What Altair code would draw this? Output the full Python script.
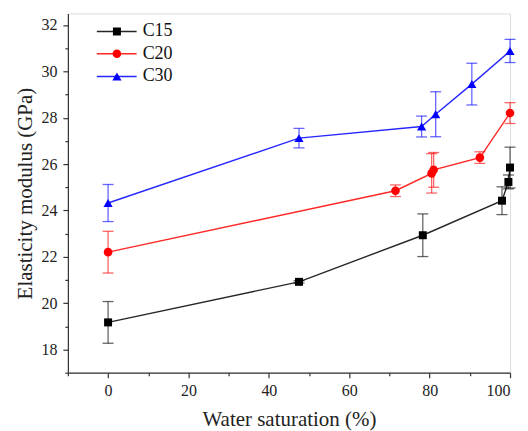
import altair as alt
import pandas as pd

series = ["C15", "C20", "C30"]
colors = ["#000000", "#ff0000", "#0000ff"]
shapes = ["square", "circle", "triangle-up"]

c15_x = [0, 47.5, 78.3, 98.0, 99.6, 100.0]
c15_y = [19.17, 20.92, 22.93, 24.42, 25.23, 25.85]
c15_err = [0.9, 0.05, 0.92, 0.6, 0.3, 0.88]

c20_x = [0, 71.5, 80.5, 81.0, 92.5, 100.0]
c20_y = [22.2, 24.85, 25.6, 25.75, 26.28, 28.2]
c20_err = [0.9, 0.25, 0.85, 0.75, 0.25, 0.45]

c30_x = [0, 47.5, 78.0, 81.5, 90.5, 100.0]
c30_y = [24.32, 27.12, 27.62, 28.15, 29.45, 30.88]
c30_err = [0.8, 0.42, 0.45, 0.97, 0.9, 0.5]

x_major = [0, 20, 40, 60, 80, 100]
x_minor = [-10, 10, 30, 50, 70, 90]
y_major = [18, 20, 22, 24, 26, 28, 30, 32]
y_minor = [17, 19, 21, 23, 25, 27, 29, 31]

legend_y = [31.72, 30.76, 29.78]
legend_line_x = [-2.8, 7.1]
legend_sym_x = 2.2
legend_text_x = 8.6

rows = []
for name, xs, ys, es in [("C15", c15_x, c15_y, c15_err),
                         ("C20", c20_x, c20_y, c20_err),
                         ("C30", c30_x, c30_y, c30_err)]:
    for x, y, e in zip(xs, ys, es):
        rows.append(dict(series=name, x=x, y=y, lo=y - e, hi=y + e))
df = pd.DataFrame(rows)

leg = pd.DataFrame(dict(series=series, y=legend_y,
                        x1=[legend_line_x[0]] * 3, x2=[legend_line_x[1]] * 3,
                        xs=[legend_sym_x] * 3, xt=[legend_text_x] * 3))

FONT = "Liberation Serif, Times New Roman, serif"
xscale = alt.Scale(domain=[-10, 100], nice=False, zero=False)
yscale = alt.Scale(domain=[17, 32.5], nice=False, zero=False)
color = alt.Color("series:N", scale=alt.Scale(domain=series, range=colors), legend=None)
shape = alt.Shape("series:N", scale=alt.Scale(domain=series, range=shapes), legend=None)
size = alt.Size("series:N", scale=alt.Scale(domain=series, range=[64, 85, 100]), legend=None)


def X(field):
    return alt.X(field, type="quantitative", scale=xscale, axis=None)


def Y(field):
    return alt.Y(field, type="quantitative", scale=yscale, axis=None)


x_main = alt.X("x:Q", scale=xscale, axis=alt.Axis(
    values=x_major, orient="bottom", title="Water saturation (%)", grid=False,
    tickSize=5, labelPadding=5, titlePadding=10, labelFontSize=16, titleFontSize=21,
    labelFont=FONT, titleFont=FONT, titleFontWeight="normal", labelColor="#222",
    titleColor="#222", domainColor="#333", tickColor="#333", domainWidth=1.2, tickWidth=1.2))
y_main = alt.Y("y:Q", scale=yscale, axis=alt.Axis(
    values=y_major, orient="left", title="Elasticity modulus (GPa)", grid=False,
    tickSize=5, labelPadding=6, titlePadding=5, labelFontSize=16, titleFontSize=21,
    labelFont=FONT, titleFont=FONT, titleFontWeight="normal", labelColor="#222",
    titleColor="#222", domainColor="#333", tickColor="#333", domainWidth=1.2, tickWidth=1.2))

x_min_ax = alt.X("x:Q", scale=xscale, axis=alt.Axis(
    values=x_minor, orient="bottom", title=None, labels=False, grid=False, domain=False,
    tickSize=3, tickColor="#333", tickWidth=1.2))
y_min_ax = alt.Y("y:Q", scale=yscale, axis=alt.Axis(
    values=y_minor, orient="left", title=None, labels=False, grid=False, domain=False,
    tickSize=3, tickColor="#333", tickWidth=1.2))

base = alt.Chart(df)
lines = base.mark_line(strokeWidth=1.4, opacity=0.85).encode(
    x=x_main, y=y_main, color=color, order="x:Q")
minor = base.mark_point(opacity=0).encode(x=x_min_ax, y=y_min_ax)

bars = base.mark_rule(strokeWidth=1.3, opacity=0.6).encode(
    x=X("x"), y=Y("lo"), y2="hi:Q", color=color)
cap_lo = base.mark_tick(orient="horizontal", size=11, thickness=1.3, opacity=0.6).encode(
    x=X("x"), y=Y("lo"), color=color)
cap_hi = base.mark_tick(orient="horizontal", size=11, thickness=1.3, opacity=0.6).encode(
    x=X("x"), y=Y("hi"), color=color)
pts = base.mark_point(filled=True, opacity=1).encode(
    x=X("x"), y=Y("y"), color=color, shape=shape, size=size)

lb = alt.Chart(leg)
leg_line = lb.mark_rule(strokeWidth=1.4, opacity=0.85).encode(
    x=X("x1"), x2="x2:Q", y=Y("y"), color=color)
leg_pts = lb.mark_point(filled=True, opacity=1).encode(
    x=X("xs"), y=Y("y"), color=color, shape=shape, size=size)
leg_txt = lb.mark_text(align="left", baseline="middle", font=FONT, fontSize=18,
                       color="#111").encode(
    x=X("xt"), y=Y("y"), text="series:N")

chart = alt.layer(lines, minor, bars, cap_lo, cap_hi, pts, leg_line, leg_pts, leg_txt).resolve_axis(
    x="independent", y="independent"
).properties(
    width=443, height=360, autosize="none",
    padding={"left": 60, "top": 5, "right": 10, "bottom": 58}
).configure_view(stroke=None).configure(background="white")

chart.save("out.html", embed_options={"renderer": "svg", "actions": False})
